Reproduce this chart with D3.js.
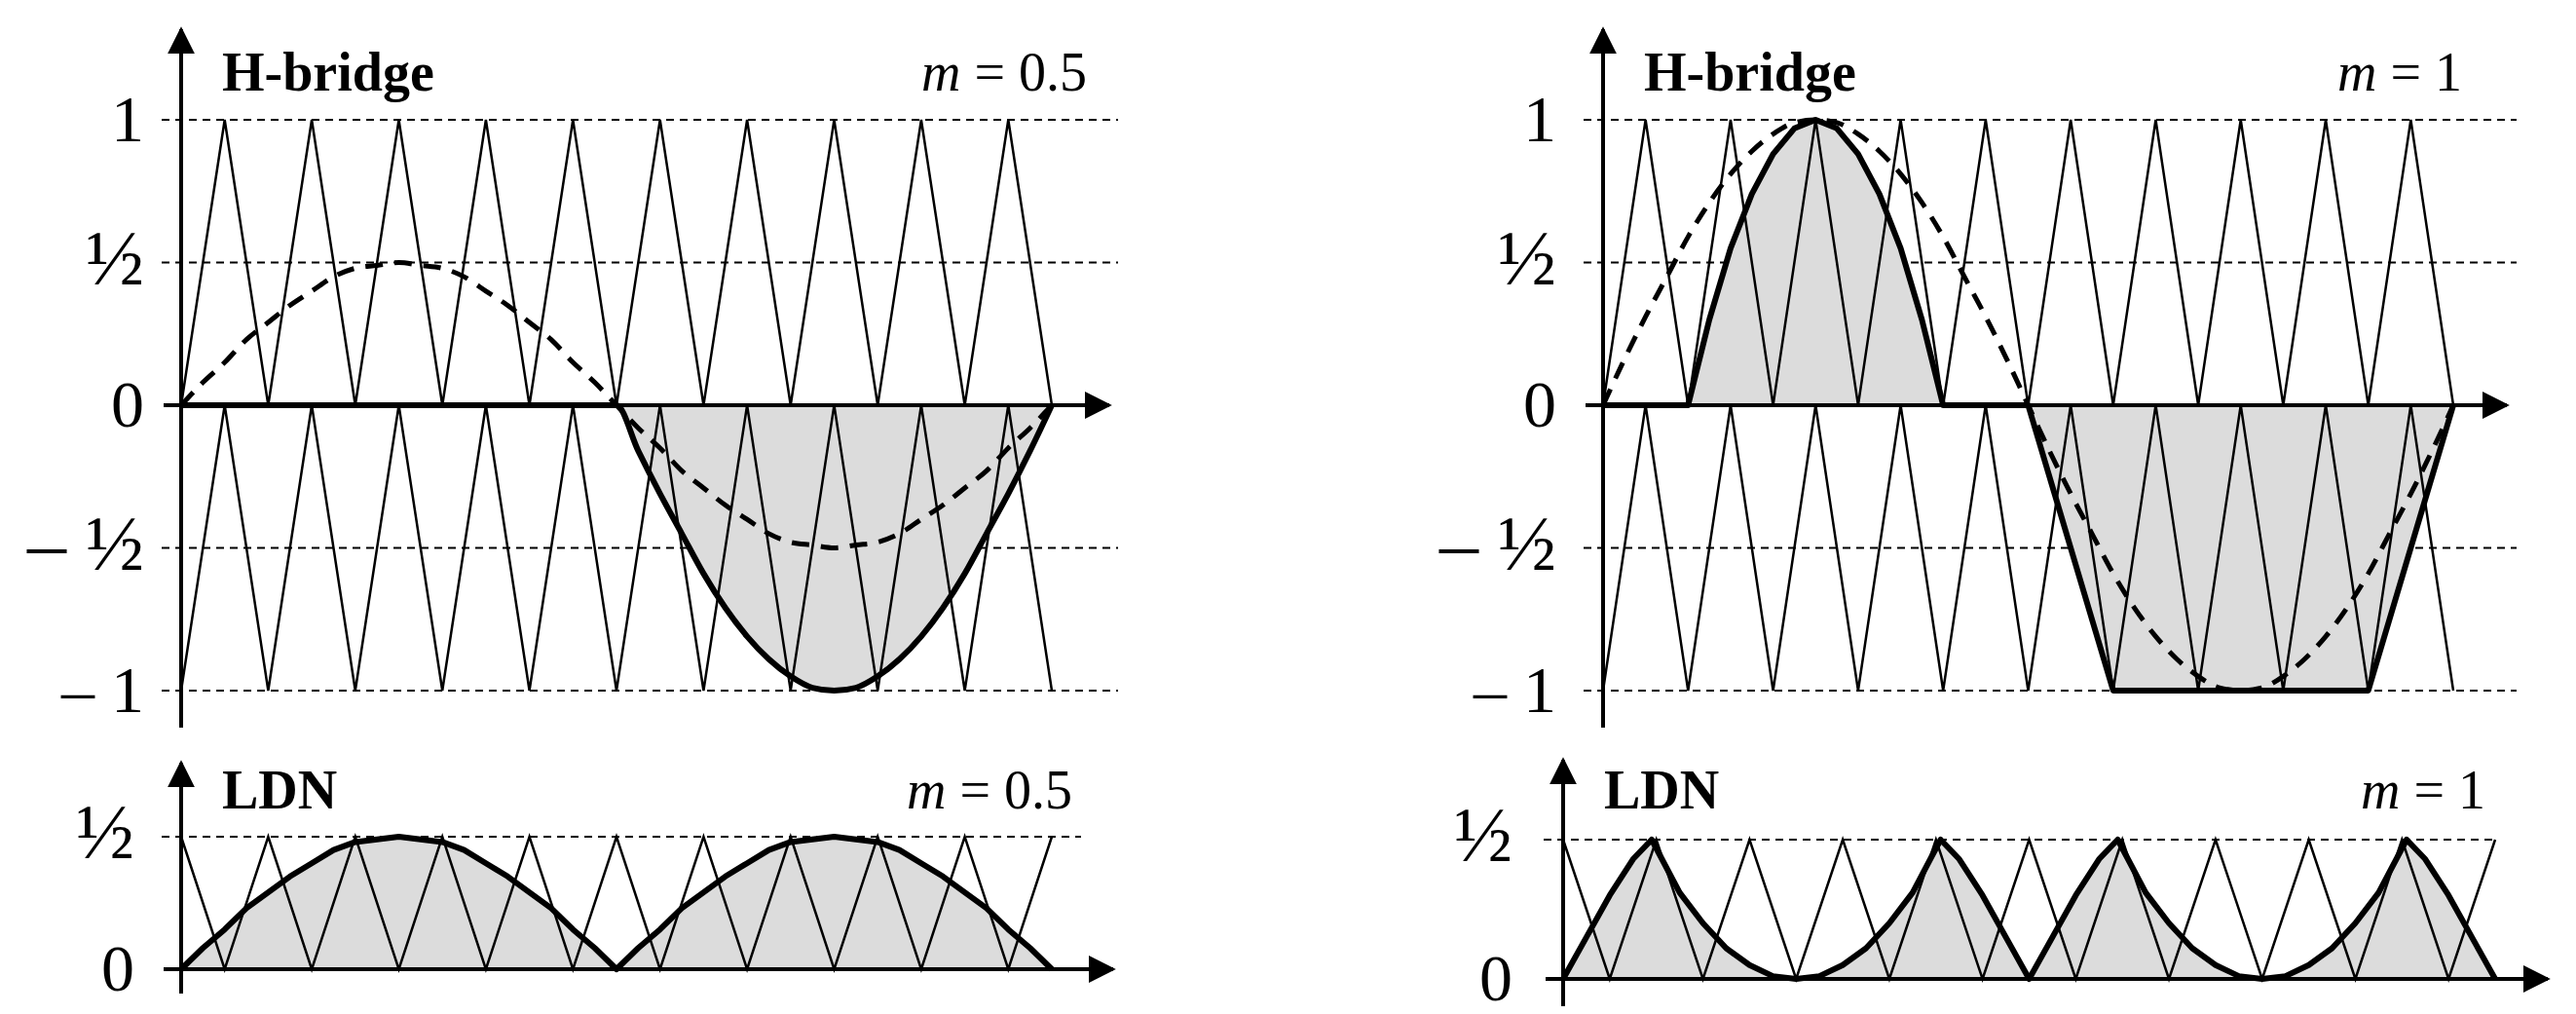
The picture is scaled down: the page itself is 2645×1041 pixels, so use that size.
<!DOCTYPE html>
<html><head><meta charset="utf-8">
<script src="https://cdn.jsdelivr.net/npm/d3@7"></script>
<style>body{margin:0;background:#fff}text{font-family:"Liberation Serif",serif;fill:#000}</style>
</head><body><svg id="c" width="2645" height="1041"></svg>
<script>
// ---- data ----
const carrierT = d3.range(21).map(i => i / 20);
const carrierUpper = [0,1,0,1,0,1,0,1,0,1,0,1,0,1,0,1,0,1,0,1,0];
const carrierLower = [-1,0,-1,0,-1,0,-1,0,-1,0,-1,0,-1,0,-1,0,-1,0,-1,0,-1];
const carrierLDN  = [0.5,0,0.5,0,0.5,0,0.5,0,0.5,0,0.5,0,0.5,0,0.5,0,0.5,0,0.5,0,0.5];

const sineT = d3.range(41).map(i => i / 40);
const refHalf = [0,.08,.15,.23,.29,.35,.40,.45,.48,.49,.5,.49,.48,.45,.40,.35,.29,.23,.15,.08,0,
  -.08,-.15,-.23,-.29,-.35,-.40,-.45,-.48,-.49,-.5,-.49,-.48,-.45,-.40,-.35,-.29,-.23,-.15,-.08,0];
const refFull = [0,.16,.31,.45,.59,.71,.81,.89,.95,.99,1,.99,.95,.89,.81,.71,.59,.45,.31,.16,0,
  -.16,-.31,-.45,-.59,-.71,-.81,-.89,-.95,-.99,-1,-.99,-.95,-.89,-.81,-.71,-.59,-.45,-.31,-.16,0];
const outHB05 = [0,0,0,0,0,0,0,0,0,0,0,0,0,0,0,0,0,0,0,0,0,
  -.16,-.31,-.45,-.59,-.71,-.81,-.89,-.95,-.99,-1,-.99,-.95,-.89,-.81,-.71,-.59,-.45,-.31,-.16,0];
const outLDN05 = [0,.08,.15,.23,.29,.35,.40,.45,.48,.49,.5,.49,.48,.45,.40,.35,.29,.23,.15,.08,0,
  .08,.15,.23,.29,.35,.40,.45,.48,.49,.5,.49,.48,.45,.40,.35,.29,.23,.15,.08,0];
const outHB1T = [0,.1,.125,.15,.175,.2,.225,.25,.275,.3,.325,.35,.375,.4,.5,.6,.9,1];
const outHB1  = [0,0,.3,.55,.74,.88,.97,1,.97,.88,.74,.55,.3,0,0,-1,-1,0];
const outLDN1T = [0,.025,.05,.075,.095,.125,.15,.175,.2,.225,.25,.275,.3,.325,.35,.375,.405,.425,.45,.475,.5,
  .525,.55,.575,.595,.625,.65,.675,.7,.725,.75,.775,.8,.825,.85,.875,.905,.925,.95,.975,1];
const outLDN1 = [0,.15,.3,.43,.5,.31,.2,.11,.05,.01,0,.01,.05,.11,.2,.31,.5,.43,.3,.15,0,
  .15,.3,.43,.5,.31,.2,.11,.05,.01,0,.01,.05,.11,.2,.31,.5,.43,.3,.15,0];

const hbTicks = [1,0.5,0,-0.5,-1];
const hbTickLabels = ["1","½","0","– ½","– 1"];
const ldnTicks = [0.5,0];
const ldnTickLabels = ["½","0"];

// ---- drawing ----
const svg = d3.select("#c");
svg.append("defs").append("marker").attr("id","arr").attr("viewBox","0 0 10 10")
  .attr("refX",9).attr("refY",5).attr("markerWidth",28).attr("markerHeight",28)
  .attr("markerUnits","userSpaceOnUse").attr("orient","auto")
  .append("path").attr("d","M0,0L10,5L0,10z");

function panel(o) {
  const g = svg.append("g");
  const x = d3.scaleLinear().domain([0,1]).range([o.ax, o.xEnd]);
  const y = d3.scaleLinear().domain(o.dom).range(o.yr);
  g.selectAll(".grid").data(o.grid).join("line")
    .attr("x1", o.ax - 20).attr("x2", o.gridEnd)
    .attr("y1", d => y(d)).attr("y2", d => y(d))
    .attr("stroke","#000").attr("stroke-width",2).attr("stroke-dasharray","8,6");
  const pts = o.outT.map((t,i)=>[t,o.out[i]]);
  g.append("path").datum(pts)
    .attr("d", d3.area().x(d=>x(d[0])).y0(y(0)).y1(d=>y(d[1])).curve(o.curve))
    .attr("fill","#dcdcdc");
  o.carriers.forEach(c => {
    g.append("path").datum(carrierT.map((t,i)=>[t,c[i]]))
      .attr("d", d3.line().x(d=>x(d[0])).y(d=>y(d[1])))
      .attr("fill","none").attr("stroke","#000").attr("stroke-width",2.5);
  });
  if (o.ref) g.append("path").datum(sineT.map((t,i)=>[t,o.ref[i]]))
    .attr("d", d3.line().x(d=>x(d[0])).y(d=>y(d[1])).curve(d3.curveMonotoneX))
    .attr("fill","none").attr("stroke","#000").attr("stroke-width",5).attr("stroke-dasharray","18,12");
  g.append("line").attr("x1",o.ax).attr("x2",o.ax).attr("y1",o.axBot).attr("y2",o.axTop)
    .attr("stroke","#000").attr("stroke-width",4).attr("marker-end","url(#arr)");
  g.append("line").attr("x1",o.ax - 18).attr("x2",o.arrEnd).attr("y1",y(0)).attr("y2",y(0))
    .attr("stroke","#000").attr("stroke-width",4).attr("marker-end","url(#arr)");
  g.append("path").datum(pts)
    .attr("d", d3.line().x(d=>x(d[0])).y(d=>y(d[1])).curve(o.curve))
    .attr("fill","none").attr("stroke","#000").attr("stroke-width",6).attr("stroke-linejoin","round");
  g.selectAll(".tk").data(o.ticks).join("text")
    .attr("x", o.ax - o.tkOff).attr("y", d => y(d) + 22)
    .attr("text-anchor","end")
    .attr("font-size", (d,i) => o.tickLabels[i].includes("½") ? 80 : 68)
    .text((d,i)=>o.tickLabels[i]);
  g.append("text").attr("x", o.ax + 42).attr("y", o.titleY).attr("font-size",56)
    .attr("font-weight","bold").text(o.title);
  const mt = g.append("text").attr("x", o.mX).attr("y", o.titleY).attr("font-size",56).attr("text-anchor","end");
  mt.append("tspan").attr("font-style","italic").text("m");
  mt.append("tspan").text(" = " + o.m);
}

panel({ax:186, xEnd:1080, arrEnd:1139, gridEnd:1148, dom:[-1,1], yr:[709,123], grid:[1,0.5,-0.5,-1],
  axTop:30, axBot:747, outT:sineT, out:outHB05, curve:d3.curveMonotoneX, carriers:[carrierUpper,carrierLower],
  ref:refHalf, ticks:hbTicks, tickLabels:hbTickLabels, tkOff:38, title:"H-bridge", titleY:93, mX:1116, m:"0.5"});
panel({ax:1646, xEnd:2519, arrEnd:2574, gridEnd:2584, dom:[-1,1], yr:[709,123], grid:[1,0.5,-0.5,-1],
  axTop:30, axBot:747, outT:outHB1T, out:outHB1, curve:d3.curveLinear, carriers:[carrierUpper,carrierLower],
  ref:refFull, ticks:hbTicks, tickLabels:hbTickLabels, tkOff:48, title:"H-bridge", titleY:93, mX:2528, m:"1"});
panel({ax:186, xEnd:1080, arrEnd:1143, gridEnd:1110, dom:[0,0.5], yr:[995,859], grid:[0.5],
  axTop:783, axBot:1020, outT:sineT, out:outLDN05, curve:d3.curveLinear, carriers:[carrierLDN],
  ref:null, ticks:ldnTicks, tickLabels:ldnTickLabels, tkOff:48, title:"LDN", titleY:830, mX:1101, m:"0.5"});
panel({ax:1605, xEnd:2562, arrEnd:2616, gridEnd:2565, dom:[0,0.5], yr:[1005,862], grid:[0.5],
  axTop:780, axBot:1033, outT:outLDN1T, out:outLDN1, curve:d3.curveLinear, carriers:[carrierLDN],
  ref:null, ticks:ldnTicks, tickLabels:ldnTickLabels, tkOff:52, title:"LDN", titleY:830, mX:2552, m:"1"});
</script></body></html>
